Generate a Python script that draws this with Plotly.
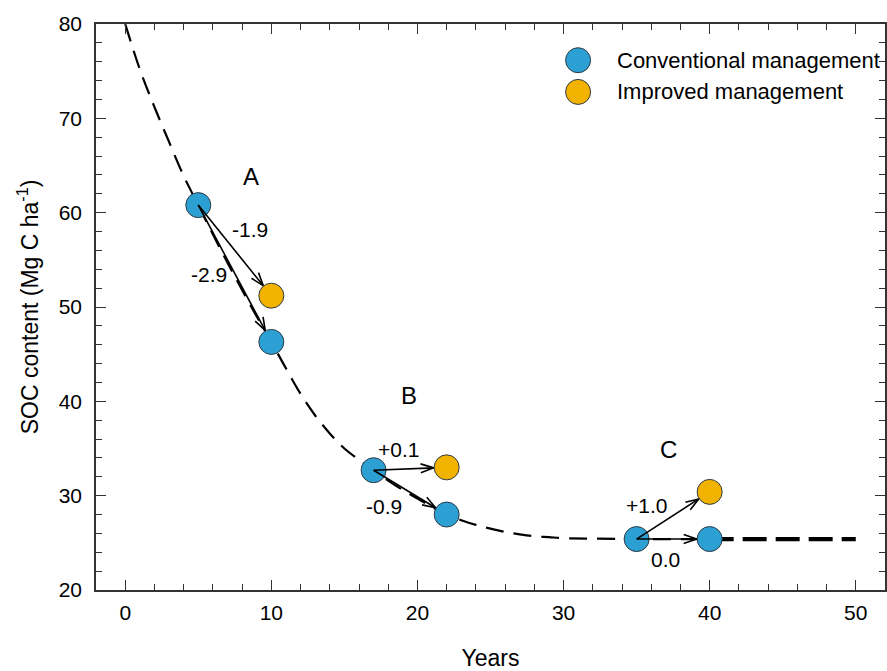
import math
import plotly.graph_objects as go

# ---------------- data ----------------
curve_x = [0, 1, 2, 3, 4, 5, 6, 7, 8, 9, 10, 11, 12, 13, 14, 15, 16, 17, 18, 19, 20,
           21, 22, 23, 24, 25, 26, 27, 28, 29, 30, 32, 35, 40]
curve_y = [80.0, 75.2, 71.2, 67.5, 63.9, 60.8, 57.7, 54.7, 51.8, 49.0, 46.3, 43.5, 40.8,
           38.5, 36.6, 35.0, 33.8, 32.7, 31.6, 30.6, 29.7, 28.8, 28.0, 27.4, 26.9, 26.5,
           26.15, 25.9, 25.7, 25.6, 25.5, 25.45, 25.4, 25.4]
steady_x = [40, 50]
steady_y = [25.4, 25.4]

conv_x = [5, 10, 17, 22, 35, 40]
conv_y = [60.8, 46.3, 32.7, 28.0, 25.4, 25.4]
impr_x = [10, 22, 40]
impr_y = [51.2, 33.0, 30.4]

arrow_from_x = [5, 5, 17, 17, 35, 35]
arrow_from_y = [60.8, 60.8, 32.7, 32.7, 25.4, 25.4]
arrow_to_x = [10, 10, 22, 22, 40, 40]
arrow_to_y = [51.2, 46.3, 33.0, 28.0, 30.4, 25.4]
arrow_labels = ["-1.9", "-2.9", "+0.1", "-0.9", "+1.0", "0.0"]
label_x = [8.55, 5.7, 18.7, 17.7, 35.7, 37.0]
label_y = [58.2, 53.4, 34.9, 28.8, 29.0, 23.2]

phase_labels = ["A", "B", "C"]
phase_x = [8.6, 19.4, 37.2]
phase_y = [63.8, 40.6, 34.9]

legend_names = ["Conventional management", "Improved management"]

# ---------------- style ----------------
W, H = 887, 671
ML, MR, MT, MB = 96, 2, 24, 81
XR = [-2, 52]
YR = [20, 80]
BLUE = "#2c9fd3"
ORANGE = "#f2b200"
EDGE = "#2e3b44"
FONT = "Liberation Sans, Arial, Helvetica, sans-serif"
MSIZE = 25

sx = (W - ML - MR) / (XR[1] - XR[0])
sy = (H - MT - MB) / (YR[1] - YR[0])

fig = go.Figure()

fig.add_trace(go.Scatter(x=curve_x, y=curve_y, mode="lines", line_shape="spline",
                         line=dict(color="black", width=2.2, dash="18px,10px"),
                         showlegend=False, hoverinfo="skip"))
fig.add_trace(go.Scatter(x=steady_x, y=steady_y, mode="lines",
                         line=dict(color="black", width=4.2, dash="24px,9px"),
                         showlegend=False, hoverinfo="skip"))

fig.add_trace(go.Scatter(x=conv_x, y=conv_y, mode="markers", name=legend_names[0],
                         marker=dict(size=MSIZE, color=BLUE, line=dict(color=EDGE, width=1)),
                         showlegend=False))
fig.add_trace(go.Scatter(x=impr_x, y=impr_y, mode="markers", name=legend_names[1],
                         marker=dict(size=MSIZE, color=ORANGE, line=dict(color=EDGE, width=1)),
                         showlegend=False))

# arrows (shaft + open head), geometry computed in pixel space from the data
R = MSIZE / 2 + 0.5
HL, HW = 13, 4.5
for x0, y0, x1, y1 in zip(arrow_from_x, arrow_from_y, arrow_to_x, arrow_to_y):
    dx = (x1 - x0) * sx
    dy = (y1 - y0) * sy
    d = math.hypot(dx, dy)
    ux, uy = dx / d, dy / d
    tx, ty = x1 * sx - ux * R, y1 * sy - uy * R
    bx, by = tx - ux * HL, ty - uy * HL
    nx, ny = -uy, ux
    fig.add_trace(go.Scatter(x=[x0, tx / sx], y=[y0, ty / sy], mode="lines",
                             line=dict(color="black", width=1.6),
                             showlegend=False, hoverinfo="skip"))
    fig.add_trace(go.Scatter(x=[(bx + nx * HW) / sx, tx / sx, (bx - nx * HW) / sx],
                             y=[(by + ny * HW) / sy, ty / sy, (by - ny * HW) / sy],
                             mode="lines", line=dict(color="black", width=1.6),
                             showlegend=False, hoverinfo="skip"))

annotations = []
for t, x, y in zip(arrow_labels, label_x, label_y):
    annotations.append(dict(x=x, y=y, xref="x", yref="y", text=t, showarrow=False,
                            font=dict(size=21, color="black", family=FONT)))
for t, x, y in zip(phase_labels, phase_x, phase_y):
    annotations.append(dict(x=x, y=y, xref="x", yref="y", text=t, showarrow=False,
                            font=dict(size=24, color="black", family=FONT)))

# custom legend
shapes = []
leg_y = [0.936, 0.880]
for name, col, ly in zip(legend_names, [BLUE, ORANGE], leg_y):
    shapes.append(dict(type="circle", xref="paper", yref="paper", xsizemode="pixel",
                       ysizemode="pixel", xanchor=0.611, yanchor=ly,
                       x0=-MSIZE / 2, x1=MSIZE / 2, y0=-MSIZE / 2, y1=MSIZE / 2,
                       fillcolor=col, line=dict(color=EDGE, width=1)))
    annotations.append(dict(x=0.658, y=ly, xref="paper", yref="paper", text=name,
                            showarrow=False, xanchor="left", yanchor="middle",
                            font=dict(size=22, color="black", family=FONT)))

axis_common = dict(showgrid=False, zeroline=False, showline=True, linecolor="#333",
                   linewidth=1.6, mirror="ticks", ticks="inside", ticklen=10,
                   tickwidth=1.3, tickcolor="#333",
                   tickfont=dict(size=21, color="black", family=FONT))

fig.update_layout(
    width=W, height=H,
    margin=dict(l=ML, r=MR, t=MT, b=MB, autoexpand=False),
    paper_bgcolor="white", plot_bgcolor="white",
    font=dict(family=FONT, color="black"),
    xaxis=dict(range=XR, dtick=10, tick0=0, ticklabelstandoff=3,
               minor=dict(dtick=2, tick0=0, ticks="inside", ticklen=6, tickcolor="#333",
                          tickwidth=1.3),
               title=dict(text="Years", font=dict(size=23, family=FONT), standoff=27),
               **axis_common),
    yaxis=dict(range=YR, dtick=10, tick0=0, ticklabelstandoff=8,
               minor=dict(dtick=2, tick0=0, ticks="inside", ticklen=6, tickcolor="#333",
                          tickwidth=1.3),
               title=dict(text="SOC content (Mg C ha<sup>-1</sup>)",
                          font=dict(size=23, family=FONT), standoff=14),
               **axis_common),
    annotations=annotations,
    shapes=shapes,
)

fig.write_html("out.html", config={"displayModeBar": False},
               post_script="document.body.style.margin='0';document.body.style.padding='0';")
